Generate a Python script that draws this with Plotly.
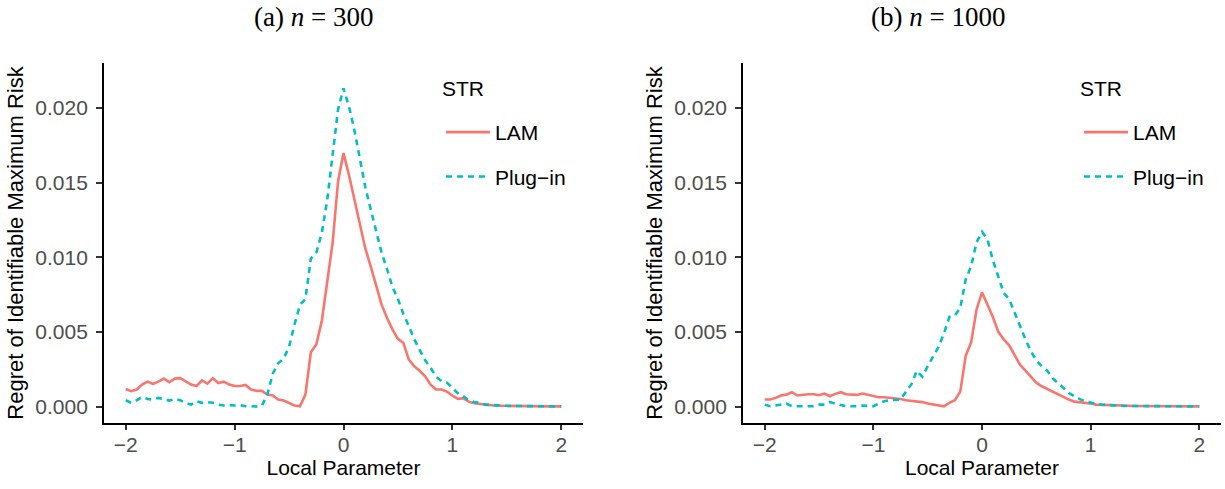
import numpy as np
import plotly.graph_objects as go

# Local parameter grid (-2 to 2, step 0.05)
local_param = np.round(np.linspace(-2, 2, 81), 2)

lam_n300 = [
    0.00118, 0.00103, 0.00114, 0.00147, 0.00167, 0.00152, 0.00167, 0.00187, 0.00163, 0.00187,
    0.00190, 0.00170, 0.00147, 0.00138, 0.00176, 0.00154, 0.00190, 0.00158, 0.00167, 0.00147,
    0.00138, 0.00138, 0.00145, 0.00114, 0.00105, 0.00105, 0.00080, 0.00074, 0.00047, 0.00040,
    0.00025, 0.00007, 0.00002, 0.00080, 0.00363, 0.00415, 0.00570, 0.00850, 0.01095, 0.01507,
    0.01697,
    0.01550, 0.01385, 0.01229, 0.01060, 0.00939, 0.00805, 0.00682, 0.00593, 0.00515, 0.00453,
    0.00426, 0.00314, 0.00270, 0.00240, 0.00203, 0.00147, 0.00114, 0.00114, 0.00100, 0.00074,
    0.00051, 0.00056, 0.00033, 0.00022, 0.00018, 0.00010, 0.00008, 0.00006, 0.00005, 0.00004,
    0.00004, 0.00003, 0.00003, 0.00002, 0.00002, 0.00002, 0.00001, 0.00001, 0.00001, 0.00001,
]

plugin_n300 = [
    0.00042, 0.00025, 0.00042, 0.00065, 0.00051, 0.00047, 0.00058, 0.00047, 0.00040, 0.00051,
    0.00042, 0.00025, 0.00013, 0.00036, 0.00025, 0.00030, 0.00025, 0.00013, 0.00007, 0.00010,
    0.00007, 0.00010, 0.00002, 0.00002, 0.00000, 0.00005, 0.00080, 0.00220, 0.00290, 0.00320,
    0.00400, 0.00550, 0.00680, 0.00720, 0.00990, 0.01030, 0.01160, 0.01380, 0.01680, 0.01990,
    0.02130,
    0.02010, 0.01850, 0.01650, 0.01470, 0.01320, 0.01180, 0.01030, 0.00920, 0.00800, 0.00720,
    0.00620, 0.00540, 0.00450, 0.00380, 0.00310, 0.00260, 0.00200, 0.00170, 0.00160, 0.00125,
    0.00090, 0.00070, 0.00042, 0.00030, 0.00025, 0.00013, 0.00010, 0.00008, 0.00006, 0.00005,
    0.00004, 0.00004, 0.00003, 0.00003, 0.00002, 0.00002, 0.00002, 0.00001, 0.00001, 0.00001,
]

lam_n1000 = [
    0.00047, 0.00047, 0.00058, 0.00074, 0.00080, 0.00096, 0.00074, 0.00080, 0.00082, 0.00082,
    0.00076, 0.00087, 0.00069, 0.00085, 0.00096, 0.00082, 0.00078, 0.00078, 0.00087, 0.00078,
    0.00069, 0.00062, 0.00062, 0.00058, 0.00056, 0.00051, 0.00042, 0.00038, 0.00030, 0.00030,
    0.00020, 0.00013, 0.00004, 0.00002, 0.00025, 0.00042, 0.00100, 0.00340, 0.00430, 0.00650,
    0.00765,
    0.00680, 0.00600, 0.00500, 0.00450, 0.00410, 0.00340, 0.00280, 0.00240, 0.00200, 0.00160,
    0.00136, 0.00118, 0.00100, 0.00080, 0.00062, 0.00047, 0.00033, 0.00030, 0.00025, 0.00020,
    0.00013, 0.00011, 0.00010, 0.00008, 0.00007, 0.00006, 0.00005, 0.00004, 0.00004, 0.00003,
    0.00003, 0.00003, 0.00002, 0.00002, 0.00002, 0.00001, 0.00001, 0.00001, 0.00001, 0.00001,
]

plugin_n1000 = [
    0.00013, 0.00002, 0.00007, 0.00013, 0.00020, 0.00002, 0.00002, 0.00002, 0.00002, 0.00002,
    0.00013, 0.00013, 0.00030, 0.00018, 0.00010, 0.00002, 0.00000, 0.00002, 0.00007, 0.00002,
    0.00002, 0.00020, 0.00036, 0.00042, 0.00042, 0.00047, 0.00100, 0.00150, 0.00240, 0.00200,
    0.00270, 0.00340, 0.00400, 0.00490, 0.00600, 0.00610, 0.00660, 0.00850, 0.00940, 0.01100,
    0.01170,
    0.01120, 0.00980, 0.00870, 0.00760, 0.00720, 0.00630, 0.00530, 0.00450, 0.00370, 0.00310,
    0.00270, 0.00240, 0.00190, 0.00160, 0.00125, 0.00090, 0.00070, 0.00050, 0.00036, 0.00025,
    0.00018, 0.00013, 0.00010, 0.00007, 0.00006, 0.00005, 0.00004, 0.00004, 0.00003, 0.00003,
    0.00003, 0.00002, 0.00002, 0.00002, 0.00002, 0.00001, 0.00001, 0.00001, 0.00001, 0.00001,
]

series_names = ["LAM", "Plug\u2212in"]
legend_title = "STR"
panel_titles = ["(a)\u00a0<i>n</i>\u00a0=\u00a0300", "(b)\u00a0<i>n</i>\u00a0=\u00a01000"]
x_ticks = [-2, -1, 0, 1, 2]
x_ticktext = ["\u22122", "\u22121", "0", "1", "2"]
y_ticks = [0.0, 0.005, 0.010, 0.015, 0.020]
y_ticktext = ["0.000", "0.005", "0.010", "0.015", "0.020"]

COL_LAM = "#F8766D"
COL_PLUG = "#00BFC4"
FONT = "Liberation Sans"

W, H = 1225, 489
def fx(px):
    return px / W
def fy(py):
    return (H - py) / H

fig = go.Figure()

panels = [
    (lam_n300, plugin_n300, "x", "y", "legend"),
    (lam_n1000, plugin_n1000, "x2", "y2", "legend2"),
]
for lam, plug, xa, ya, leg in panels:
    fig.add_trace(go.Scatter(x=local_param, y=lam, mode="lines", name=series_names[0],
                             line=dict(color=COL_LAM, width=2.6), xaxis=xa, yaxis=ya,
                             legend=leg, legendgroup="lam" + xa))
    fig.add_trace(go.Scatter(x=local_param, y=plug, mode="lines", name=series_names[1],
                             line=dict(color=COL_PLUG, width=2.6, dash="6px,5px"),
                             xaxis=xa, yaxis=ya, legend=leg, legendgroup="plug" + xa))

xdoms = [[fx(104), fx(583)], [fx(743), fx(1221)]]
ydom = [fy(423), fy(63)]

axis_common = dict(showgrid=False, zeroline=False, showline=True, linecolor="black",
                   linewidth=1.8, ticks="outside", tickwidth=1.6, tickcolor="#333333",
                   tickfont=dict(family=FONT, size=21, color="#4D4D4D"))

layout_axes = {}
for i, xd in enumerate(xdoms):
    sx = "" if i == 0 else str(i + 1)
    layout_axes["xaxis" + sx] = dict(
        domain=xd, range=[-2.2, 2.2], anchor="y" + sx, tickvals=x_ticks, ticktext=x_ticktext,
        ticklen=5, ticklabelstandoff=-3,
        title=dict(text="Local Parameter", font=dict(family=FONT, size=21, color="black"), standoff=4),
        **axis_common)
    layout_axes["yaxis" + sx] = dict(
        domain=ydom, range=[-0.0011, 0.0230], anchor="x" + sx, tickvals=y_ticks, ticktext=y_ticktext,
        ticklen=6, ticklabelstandoff=4,
        title=dict(text="Regret of Identifiable Maximum Risk", font=dict(family=FONT, size=22, color="black"),
                   standoff=6),
        **axis_common)

legend_common = dict(
    font=dict(family=FONT, size=21, color="black"),
    bgcolor="rgba(0,0,0,0)", tracegroupgap=14, itemwidth=44,
    xanchor="left", yanchor="top", yref="paper", xref="paper",
)

fig.update_layout(
    width=W, height=H,
    margin=dict(l=0, r=0, t=0, b=0),
    paper_bgcolor="white", plot_bgcolor="white",
    showlegend=True,
    legend=dict(x=fx(441), y=fy(112), **legend_common),
    legend2=dict(x=fx(1079), y=fy(112), **legend_common),
    **layout_axes,
)

for lx in [440, 1078]:
    fig.add_annotation(text=legend_title, x=fx(lx), y=fy(88), xref="paper", yref="paper",
                       showarrow=False, xanchor="left", yanchor="middle",
                       font=dict(family=FONT, size=21, color="black"))

title_x = [313, 938]
for t, tx in zip(panel_titles, title_x):
    fig.add_annotation(text=t, x=fx(tx), y=fy(17), xref="paper", yref="paper",
                       showarrow=False, xanchor="center", yanchor="middle",
                       font=dict(family="Liberation Serif", size=27, color="black"))

fig.write_html("out.html", post_script="document.body.style.margin='0';",
               config={"displayModeBar": False})
